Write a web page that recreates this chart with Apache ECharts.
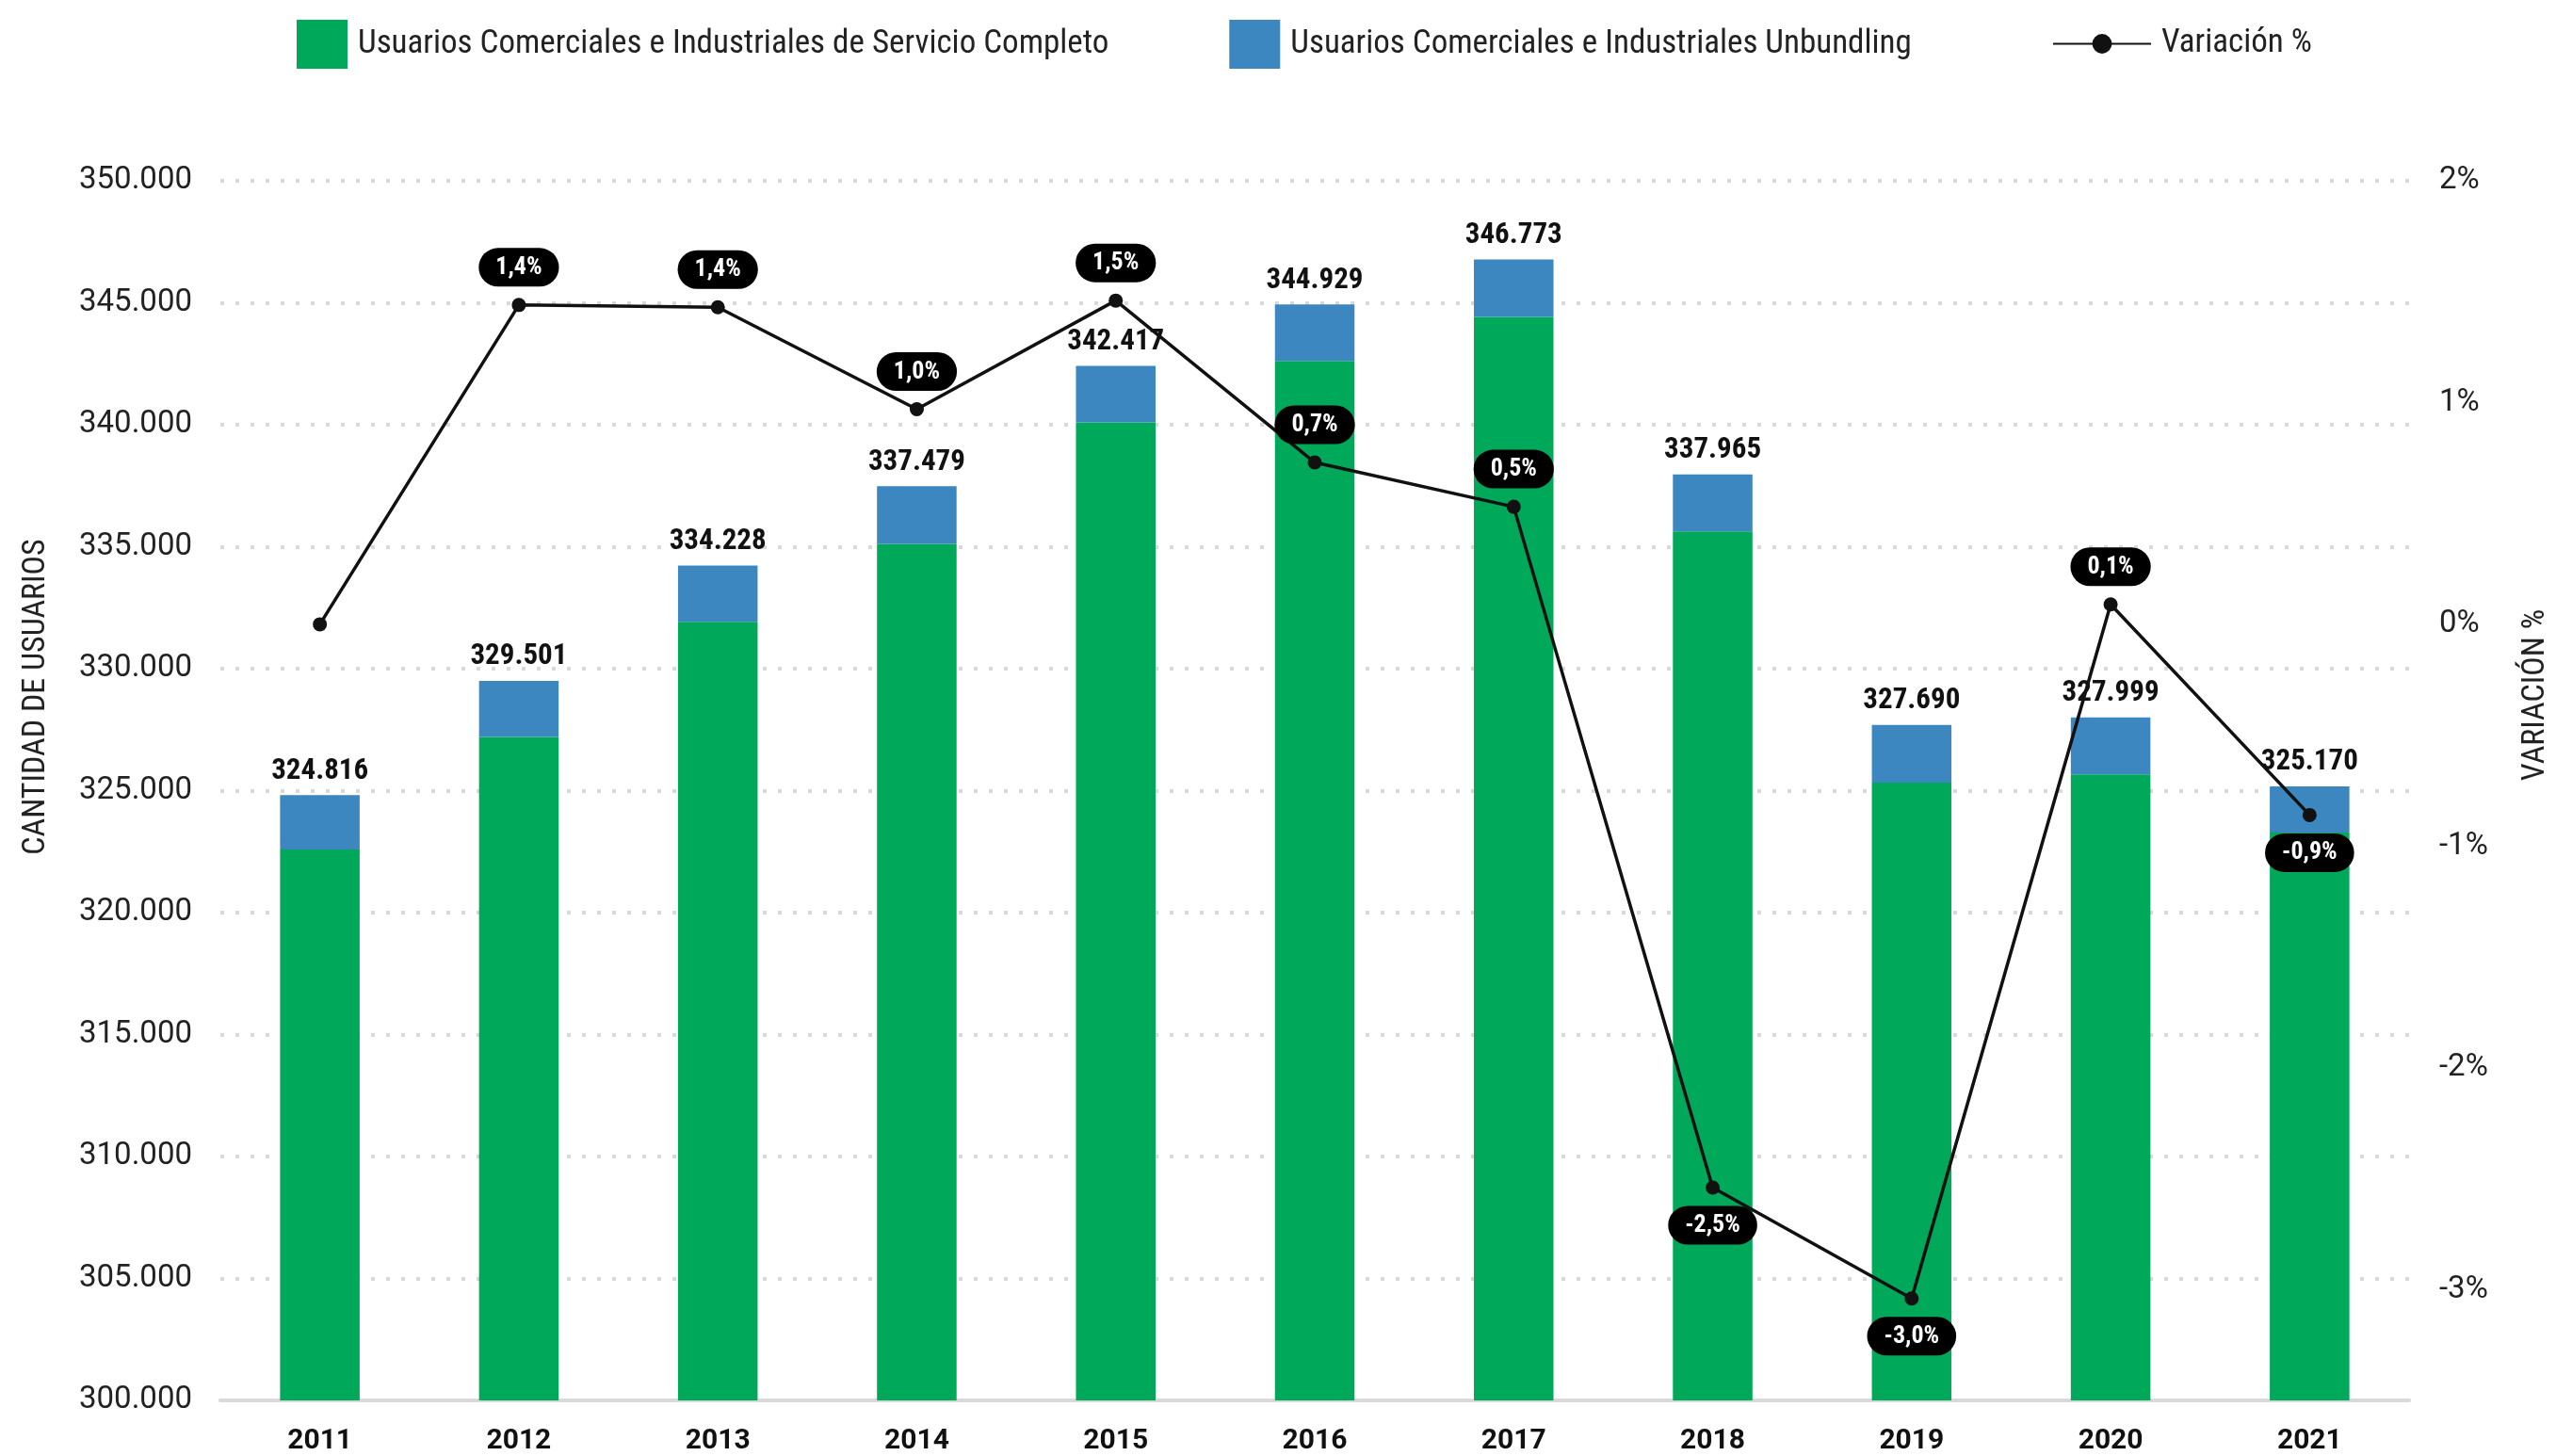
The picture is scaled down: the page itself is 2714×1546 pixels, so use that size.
<!DOCTYPE html>
<html>
<head>
<meta charset="utf-8">
<script src="https://cdn.jsdelivr.net/npm/echarts@6/dist/echarts.min.js"></script>
<style>html,body{margin:0;padding:0;background:#fff}#c{width:2714px;height:1546px}</style>
</head>
<body>
<div id="c"></div>
<script>
var years = ['2011','2012','2013','2014','2015','2016','2017','2018','2019','2020','2021'];
var completo = [322586, 327201, 331918, 335119, 340092, 342619, 344423, 335630, 325330, 325664, 323280];
var unbundling = [2230, 2300, 2310, 2360, 2325, 2310, 2350, 2335, 2360, 2335, 1890];
var totales = [324816, 329501, 334228, 337479, 342417, 344929, 346773, 337965, 327690, 327999, 325170];
var variacion = [0, 1.44, 1.43, 0.97, 1.46, 0.73, 0.53, -2.54, -3.04, 0.09, -0.86];

var COND = "'Roboto Condensed','Liberation Sans Narrow','DejaVu Sans Condensed',sans-serif";
var REG = "Roboto,'Noto Sans',sans-serif";

function fmtMiles(v){ return String(v).replace(/\B(?=(\d{3})+(?!\d))/g, '.'); }

var chart = echarts.init(document.getElementById('c'));
var varData = variacion.map(function(v, i){
  return {
    value: v,
    label: {
      show: i !== 0,
      position: v >= 0 ? 'top' : 'bottom'
    }
  };
});

chart.setOption({
  animation: false,
  backgroundColor: '#fff',
  grid: { left: 234, right: 156, top: 192, bottom: 59, containLabel: false },
  legend: [{
    data: ['Usuarios Comerciales e Industriales de Servicio Completo', 'Usuarios Comerciales e Industriales Unbundling'],
    left: 310, top: 16, itemWidth: 54, itemHeight: 52, itemGap: 128,
    icon: 'rect',
    textStyle: { fontFamily: COND, fontSize: 35, color: '#222', padding: [0,0,0,6] }
  }, {
    data: ['Variación %'],
    left: 2174, top: 24, itemWidth: 104, itemHeight: 26,
    textStyle: { fontFamily: COND, fontSize: 35, color: '#222', padding: [0,0,0,6] }
  }],
  xAxis: {
    type: 'category', data: years,
    axisLine: { onZero: false, lineStyle: { color: '#d9d9d9', width: 4 } },
    axisTick: { show: false },
    axisLabel: { fontFamily: REG, fontWeight: 'bold', fontSize: 30, color: '#111', margin: 28 }
  },
  yAxis: [{
    type: 'value', min: 300000, max: 350000, interval: 5000,
    axisLine: { show: false }, axisTick: { show: false },
    axisLabel: { fontFamily: REG, fontSize: 33, color: '#222', margin: 30, formatter: fmtMiles },
    splitLine: { lineStyle: { color: '#d9d9d9', width: 4, type: [4, 12] } }
  }, {
    type: 'value', min: -3.5, max: 2, interval: 0.5,
    axisLine: { show: false }, axisTick: { show: false },
    axisLabel: { fontFamily: REG, fontSize: 33, color: '#222', margin: 32,
      formatter: function(v){ return Number.isInteger(v) ? v + '%' : ''; } },
    splitLine: { show: false }
  }],
  series: [{
    name: 'Usuarios Comerciales e Industriales de Servicio Completo',
    type: 'bar', stack: 'u', barWidth: '40%', data: completo,
    itemStyle: { color: '#00A859' }
  }, {
    name: 'Usuarios Comerciales e Industriales Unbundling',
    type: 'bar', stack: 'u', barWidth: '40%', data: unbundling,
    itemStyle: { color: '#3C87C0' },
    label: {
      show: true, position: 'top', distance: 10,
      fontFamily: COND, fontWeight: 'bold', fontSize: 31, color: '#111',
      formatter: function(p){ return fmtMiles(totales[p.dataIndex]); }
    }
  }, {
    name: 'Variación %',
    type: 'line', yAxisIndex: 1, data: varData,
    z: 10,
    symbol: 'circle', symbolSize: 15,
    lineStyle: { color: '#111', width: 3.5 },
    itemStyle: { color: '#111' },
    label: {
      show: true, distance: 12,
      backgroundColor: '#000', borderRadius: 22, padding: [8, 18, 7, 18],
      fontFamily: COND, fontWeight: 'bold', fontSize: 26, color: '#fff',
      formatter: function(p){ return p.value.toFixed(1).replace('.', ',') + '%'; }
    }
  }],
  graphic: [{
    type: 'text', x: 38, y: 740, rotation: Math.PI / 2,
    style: { text: 'CANTIDAD DE USUARIOS', fontFamily: COND, fontSize: 34, fill: '#222',
      textAlign: 'center', textVerticalAlign: 'middle' }
  }, {
    type: 'text', x: 2692, y: 738, rotation: Math.PI / 2,
    style: { text: 'VARIACIÓN %', fontFamily: COND, fontSize: 34, fill: '#222',
      textAlign: 'center', textVerticalAlign: 'middle' }
  }]
});
</script>
</body>
</html>
